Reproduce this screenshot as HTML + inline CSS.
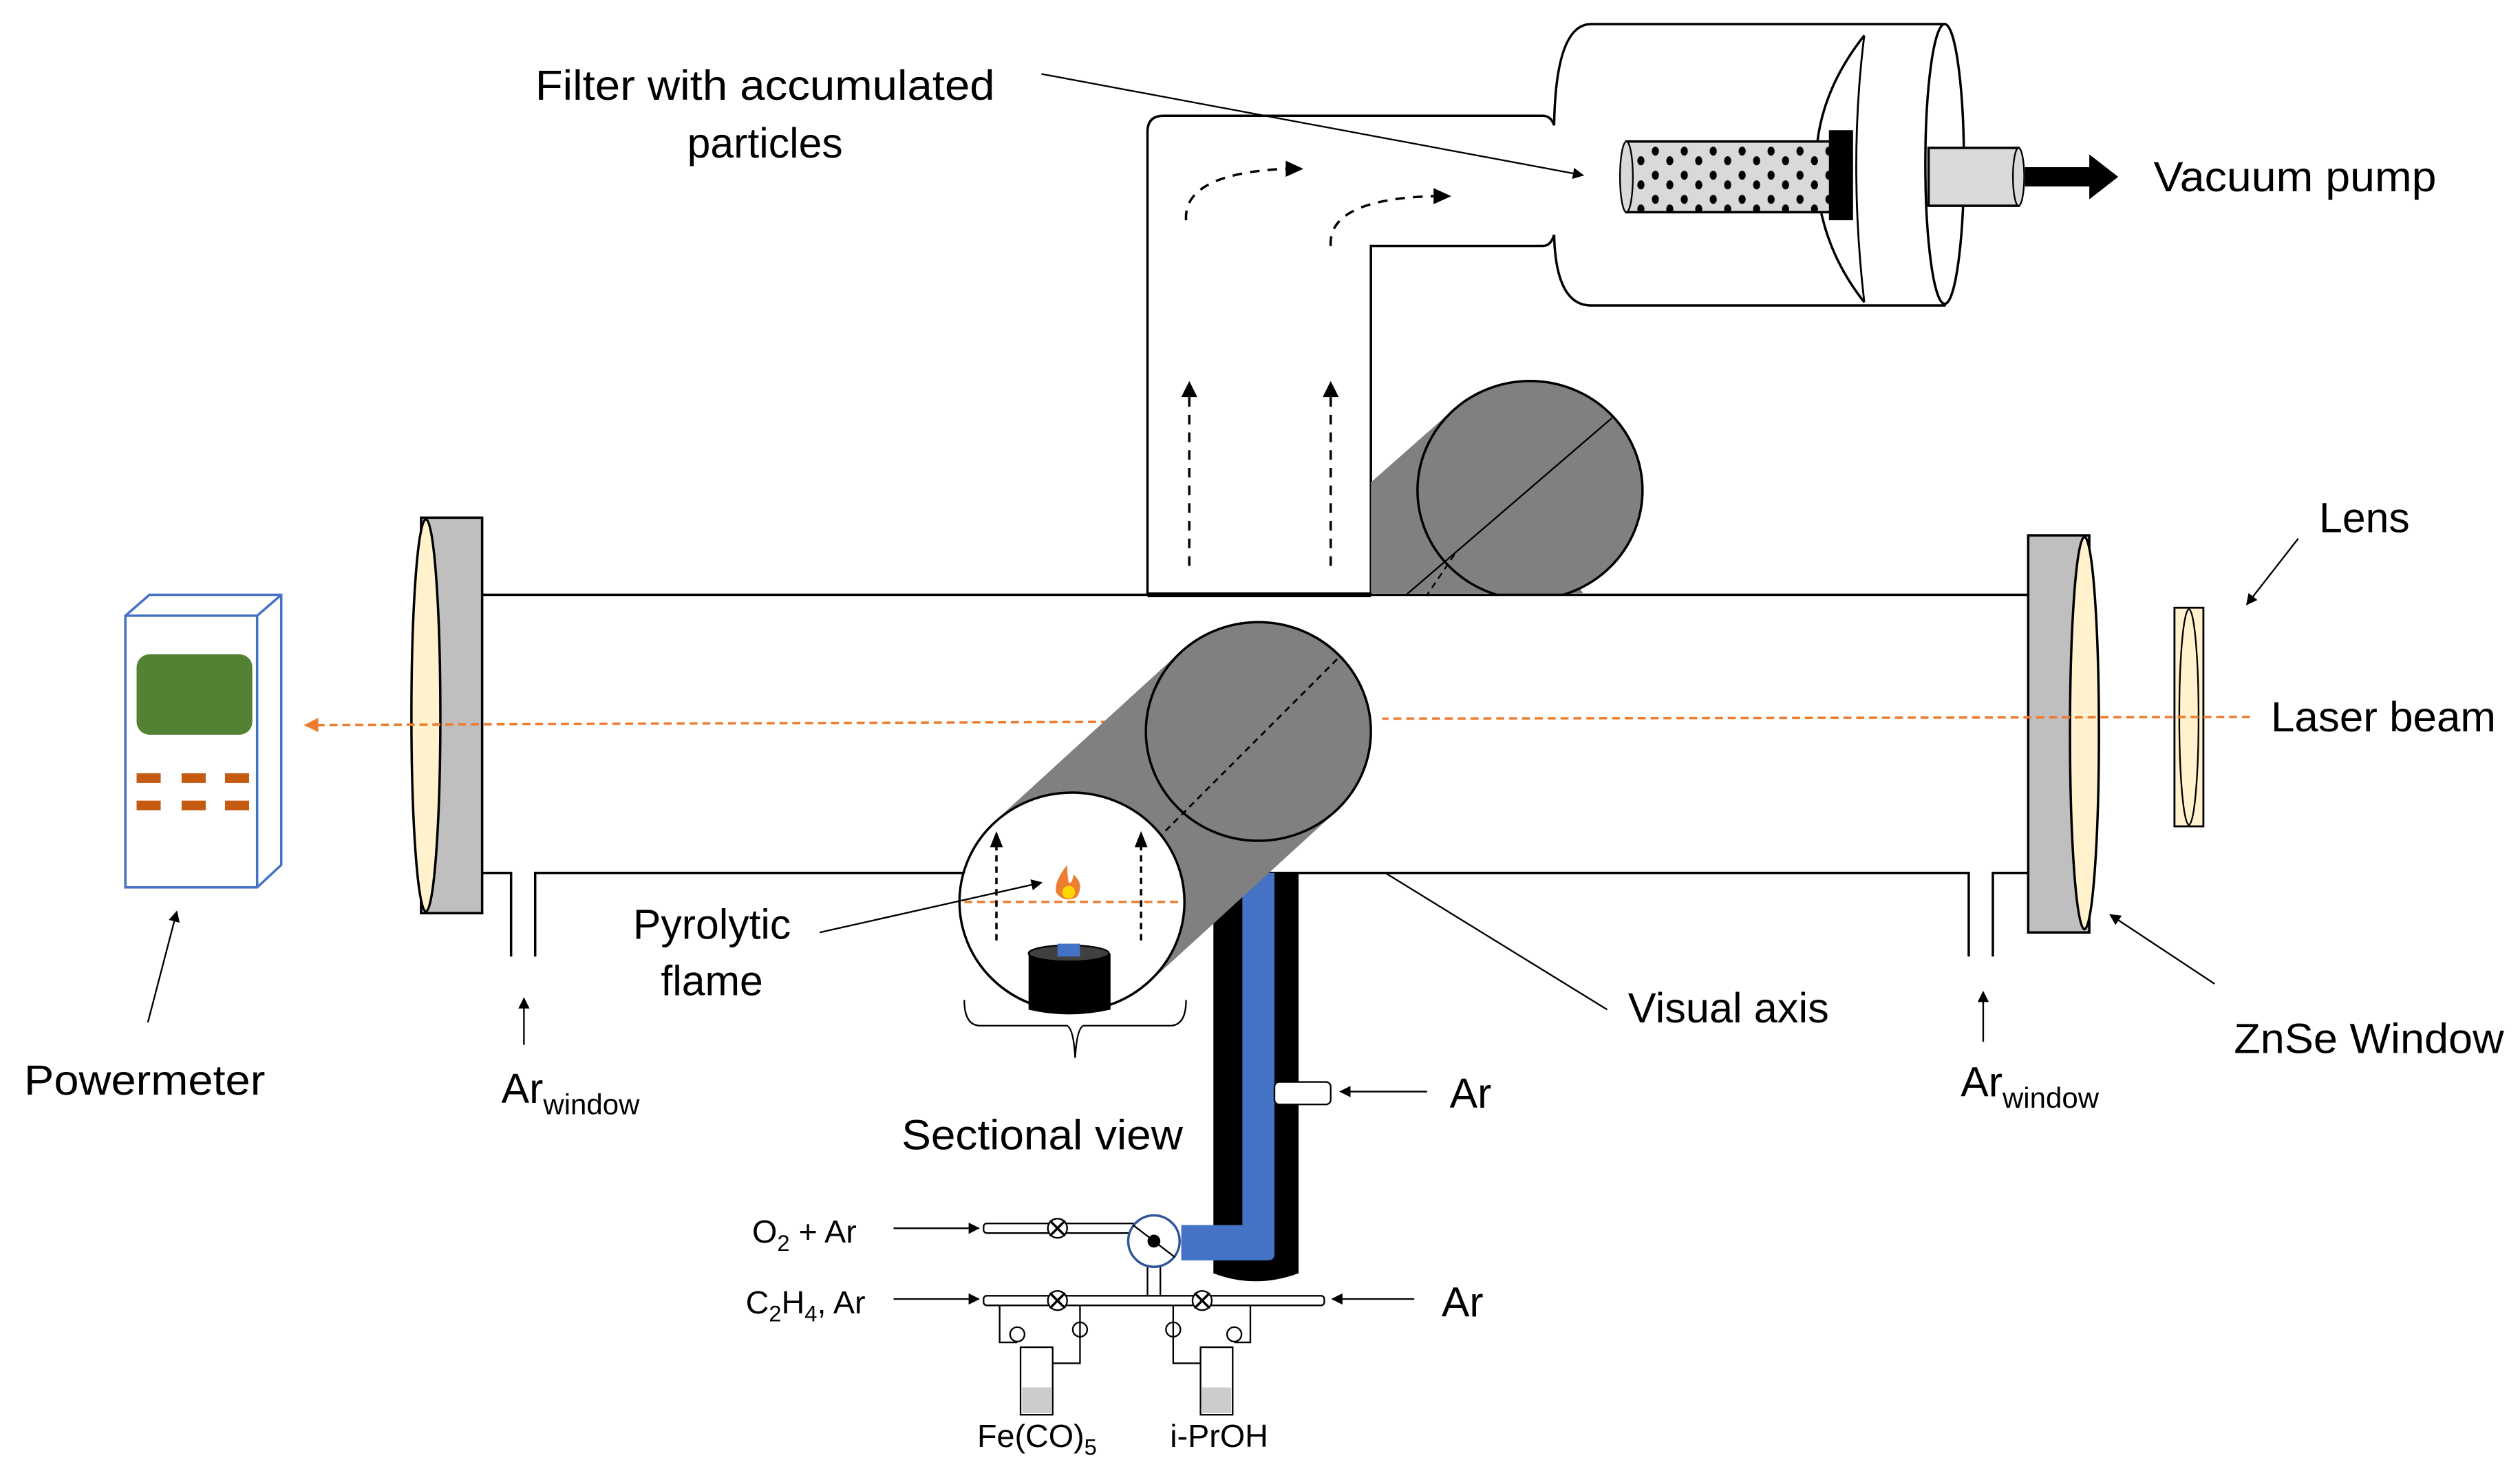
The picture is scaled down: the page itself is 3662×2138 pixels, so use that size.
<!DOCTYPE html>
<html><head><meta charset="utf-8"><style>
html,body{margin:0;padding:0;background:#fff;}
svg{display:block;}
text{font-family:"Liberation Sans",sans-serif;fill:#000;}
</style></head><body>
<svg width="3662" height="2138" viewBox="0 0 1568 915" preserveAspectRatio="none" xmlns="http://www.w3.org/2000/svg">
<defs>
<marker id="ah" viewBox="0 0 10 10" refX="9" refY="5" markerWidth="7" markerHeight="7" orient="auto-start-reverse"><path d="M0,0L10,5L0,10z" fill="#000"/></marker>
<marker id="aho" viewBox="0 0 10 10" refX="9" refY="5" markerWidth="6" markerHeight="6" orient="auto"><path d="M0,0L10,5L0,10z" fill="#ED7D31"/></marker>
<pattern id="dots" width="18" height="15" patternUnits="userSpaceOnUse"><rect width="18" height="15" fill="#d9d9d9"/><ellipse cx="4" cy="4" rx="2.2" ry="2.8" fill="#000"/><ellipse cx="13" cy="10" rx="2.2" ry="2.8" fill="#000"/></pattern>
</defs>

<path d="M714,370 L714,82 Q714,72 724,72 L960,72 Q965,72 967,78" fill="#fff" stroke="#000" stroke-width="1.5"/>
<path d="M853,370 L853,153 L960,153 Q965,153 967,146" fill="none" stroke="#000" stroke-width="1.5"/>
<path d="M967,78 Q968,15 990,15 L1210,15 L1210,190 L990,190 Q968,190 967,146" fill="#fff" stroke="#000" stroke-width="1.5"/>
<ellipse cx="1210" cy="102" rx="12" ry="87" fill="#fff" stroke="#000" stroke-width="1.5"/>
<path d="M1160,22 Q1130,60 1130,102 Q1130,150 1160,188" fill="none" stroke="#000" stroke-width="1.5"/>
<path d="M1160,22 Q1150,102 1160,188" fill="none" stroke="#000" stroke-width="1.2"/>
<rect x="1012" y="88" width="127" height="44" fill="url(#dots)" stroke="#000" stroke-width="1.5"/>
<ellipse cx="1012" cy="110" rx="4" ry="22" fill="#d9d9d9" stroke="#000"/>
<rect x="1138" y="81" width="15" height="56" fill="#000"/>
<rect x="1200" y="92" width="56" height="36" fill="#d9d9d9" stroke="#000" stroke-width="1.5"/>
<ellipse cx="1256" cy="110" rx="3.5" ry="18" fill="#d9d9d9" stroke="#000"/>
<path d="M1260,104 L1300,104 L1300,96 L1318,110 L1300,124 L1300,116 L1260,116 z" fill="#000"/>

<g stroke="#000" stroke-width="1.5" stroke-dasharray="6,5" fill="none">
<line x1="740" y1="352" x2="740" y2="245"/><line x1="828" y1="352" x2="828" y2="245"/>
<path d="M738,137 Q736,108 800,105"/><path d="M828,153 Q826,124 892,122"/>
</g>
<g fill="#000"><path d="M735,247L740,237L745,247z"/><path d="M823,247L828,237L833,247z"/><path d="M800,100L811,105L800,110z"/><path d="M892,117L903,122L892,127z"/></g>

<path d="M853,300 L912,248 L985,369 L853,369 z" fill="#808080"/>
<ellipse cx="952" cy="305" rx="70" ry="68" fill="#808080" stroke="#000" stroke-width="1.5"/>
<rect x="850" y="370" width="200" height="10" fill="#fff"/>
<line x1="1003" y1="260" x2="875" y2="370" stroke="#000" stroke-width="1"/>
<line x1="905" y1="345" x2="888" y2="370" stroke="#000" stroke-width="1" stroke-dasharray="4,3"/>

<line x1="300" y1="370" x2="1262" y2="370" stroke="#000" stroke-width="1.5"/>
<line x1="714" y1="370" x2="853" y2="370" stroke="#000" stroke-width="3"/>
<path d="M300,543 L318,543 L318,595 M333,595 L333,543 L1225,543 L1225,595 M1240,595 L1240,543 L1262,543" fill="none" stroke="#000" stroke-width="1.5"/>

<rect x="262" y="322" width="38" height="246" fill="#bfbfbf" stroke="#000" stroke-width="1.5"/>
<ellipse cx="265" cy="445" rx="9" ry="122" fill="#FFF2CC" stroke="#000" stroke-width="1.5"/>
<rect x="1262" y="333" width="38" height="247" fill="#bfbfbf" stroke="#000" stroke-width="1.5"/>
<ellipse cx="1297" cy="456" rx="9" ry="122" fill="#FFF2CC" stroke="#000" stroke-width="1.5"/>
<rect x="1353" y="378" width="18" height="136" fill="#FFF2CC" stroke="#000" stroke-width="1.2"/>
<ellipse cx="1362" cy="446" rx="6" ry="67" fill="#FFF2CC" stroke="#000" stroke-width="1"/>

<line x1="1400" y1="446" x2="860" y2="447" stroke="#ED7D31" stroke-width="1.5" stroke-dasharray="5,3"/>
<line x1="690" y1="449" x2="190" y2="451" stroke="#ED7D31" stroke-width="1.5" stroke-dasharray="5,3" marker-end="url(#aho)"/>

<path d="M755,543 L808,543 L808,792 Q781,802 755,792 z" fill="#000"/>
<path d="M773,543 L793,543 L793,780 Q793,784 789,784 L735,784 L735,762 L773,762 z" fill="#4472C4"/>
<rect x="793" y="673" width="35" height="14" rx="3" fill="#fff" stroke="#000"/>

<path d="M620,510 L736,404 L830,506 L714,612 z" fill="#808080"/>
<ellipse cx="783" cy="455" rx="70" ry="68" fill="#808080" stroke="#000" stroke-width="1.5"/>
<line x1="832" y1="410" x2="722" y2="520" stroke="#000" stroke-width="1.2" stroke-dasharray="4,3"/>
<ellipse cx="667" cy="561" rx="70" ry="68" fill="#fff" stroke="#000" stroke-width="1.5"/>
<line x1="600" y1="561" x2="735" y2="561" stroke="#ED7D31" stroke-width="1.5" stroke-dasharray="5,3"/>
<g stroke="#000" stroke-width="1.5" stroke-dasharray="4,3"><line x1="620" y1="585" x2="620" y2="525"/><line x1="710" y1="585" x2="710" y2="525"/></g>
<path d="M616,527L620,517L624,527z M706,527L710,517L714,527z" fill="#000"/>
<path d="M640,593 L640,628 Q665,634 691,628 L691,593 z" fill="#000"/>
<ellipse cx="665" cy="593" rx="25" ry="5" fill="#404040" stroke="#000"/>
<rect x="658" y="587" width="14" height="8" fill="#4472C4"/>
<path d="M664,538 Q656,548 657,555 Q662,562 670,558 Q675,550 668,544 Q667,550 665,549 Q664,544 664,538z" fill="#ED7D31"/>
<ellipse cx="665" cy="555" rx="4" ry="4" fill="#FFD700"/>
<path d="M600,622 Q600,638 610,638 L664,638 Q668,640 669,658 Q670,640 674,638 L728,638 Q738,638 738,622" fill="none" stroke="#000" stroke-width="1"/>

<rect x="612" y="761" width="95" height="6" rx="2" fill="#fff" stroke="#000"/>
<rect x="714" y="780" width="8" height="27" fill="#fff" stroke="#000"/>
<rect x="612" y="806" width="212" height="6" rx="2" fill="#fff" stroke="#000"/>
<circle cx="718" cy="772" r="16" fill="#fff" stroke="#2F5597" stroke-width="1.5"/>
<line x1="705" y1="762" x2="731" y2="782" stroke="#000"/><circle cx="718" cy="772" r="4" fill="#000"/>
<g fill="#fff" stroke="#000" stroke-width="1">
<circle cx="658" cy="764" r="6"/><circle cx="658" cy="809" r="6"/><circle cx="748" cy="809" r="6"/>
<circle cx="633" cy="830" r="4.5"/><circle cx="672" cy="827" r="4.5"/><circle cx="730" cy="827" r="4.5"/><circle cx="768" cy="830" r="4.5"/>
<path d="M622,812 L622,835 L633,835 M672,812 L672,848 L652,848 M730,812 L730,848 L748,848 M778,812 L778,835 L768,835" fill="none"/>
<rect x="635" y="838" width="20" height="42"/><rect x="747" y="838" width="20" height="42"/>
</g>
<rect x="636" y="863" width="18" height="16" fill="#ccc"/><rect x="748" y="863" width="18" height="16" fill="#ccc"/>
<g stroke="#000" stroke-width="1.5" stroke-linecap="round">
<line x1="652" y1="764" x2="664" y2="764" transform="rotate(45 658 764)"/><line x1="652" y1="764" x2="664" y2="764" transform="rotate(-45 658 764)"/>
<line x1="652" y1="809" x2="664" y2="809" transform="rotate(45 658 809)"/><line x1="652" y1="809" x2="664" y2="809" transform="rotate(-45 658 809)"/>
<line x1="742" y1="809" x2="754" y2="809" transform="rotate(45 748 809)"/><line x1="742" y1="809" x2="754" y2="809" transform="rotate(-45 748 809)"/>
</g>

<path d="M78,383 L93,370 L175,370 L175,538 L160,552 L78,552 z" fill="#fff" stroke="#4472C4" stroke-width="1.5"/>
<path d="M78,383 L160,383 L175,370 M160,383 L160,552" fill="none" stroke="#4472C4" stroke-width="1.5"/>
<rect x="85" y="407" width="72" height="50" rx="8" fill="#548235"/>
<g fill="#C55A11"><rect x="85" y="481" width="15" height="6"/><rect x="113" y="481" width="15" height="6"/><rect x="140" y="481" width="15" height="6"/><rect x="85" y="498" width="15" height="6"/><rect x="113" y="498" width="15" height="6"/><rect x="140" y="498" width="15" height="6"/></g>

<g stroke="#000" stroke-width="1" fill="none" marker-end="url(#ah)">
<line x1="648" y1="46" x2="985" y2="109"/>
<line x1="1430" y1="335" x2="1398" y2="376"/>
<line x1="1378" y1="612" x2="1313" y2="569"/>
<line x1="92" y1="636" x2="110" y2="567"/>
<line x1="510" y1="580" x2="648" y2="549"/>
<line x1="326" y1="650" x2="326" y2="621"/>
<line x1="1234" y1="648" x2="1234" y2="617"/>
<line x1="888" y1="679" x2="834" y2="679"/>
<line x1="880" y1="808" x2="829" y2="808"/>
<line x1="556" y1="764" x2="609" y2="764"/>
<line x1="556" y1="808" x2="609" y2="808"/>
</g>
<line x1="1000" y1="628" x2="862" y2="543" stroke="#000" stroke-width="1"/>

<g font-size="26">
<text x="476" y="62" text-anchor="middle" textLength="286" lengthAdjust="spacingAndGlyphs">Filter with accumulated</text>
<text x="476" y="98" text-anchor="middle">particles</text>
<text x="1340" y="119" textLength="176" lengthAdjust="spacingAndGlyphs">Vacuum pump</text>
<text x="1443" y="331">Lens</text>
<text x="1413" y="455" textLength="140" lengthAdjust="spacingAndGlyphs">Laser beam</text>
<text x="1390" y="655" textLength="168" lengthAdjust="spacingAndGlyphs">ZnSe Window</text>
<text x="1013" y="636" textLength="125" lengthAdjust="spacingAndGlyphs">Visual axis</text>
<text x="15" y="681" textLength="150" lengthAdjust="spacingAndGlyphs">Powermeter</text>
<text x="443" y="584" text-anchor="middle">Pyrolytic</text>
<text x="443" y="619" text-anchor="middle">flame</text>
<text x="561" y="715" textLength="175" lengthAdjust="spacingAndGlyphs">Sectional view</text>
<text x="902" y="689">Ar</text>
<text x="897" y="819">Ar</text>
<text x="312" y="686">Ar<tspan font-size="18" dy="7">window</tspan></text>
<text x="1220" y="682">Ar<tspan font-size="18" dy="7">window</tspan></text>
</g>
<g font-size="20">
<text x="468" y="773">O<tspan font-size="14" dy="5">2</tspan><tspan dy="-5"> + Ar</tspan></text>
<text x="464" y="817">C<tspan font-size="14" dy="5">2</tspan><tspan dy="-5">H</tspan><tspan font-size="14" dy="5">4</tspan><tspan dy="-5">, Ar</tspan></text>
<text x="608" y="900">Fe(CO)<tspan font-size="14" dy="5">5</tspan></text>
<text x="728" y="900">i-PrOH</text>
</g>
</svg>
</body></html>
